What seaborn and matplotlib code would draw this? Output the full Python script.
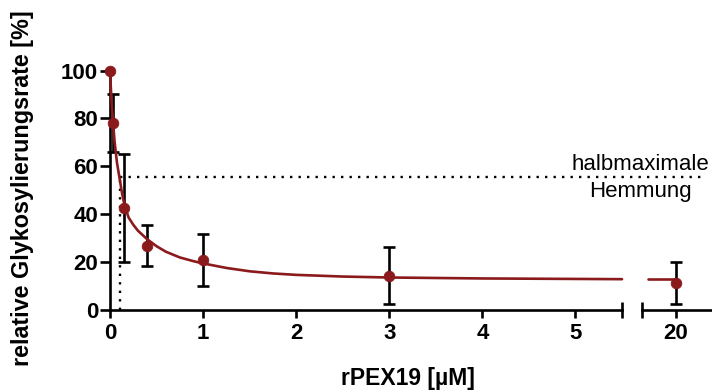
import matplotlib
matplotlib.use("Agg")
import matplotlib.pyplot as plt
import seaborn as sns
import pandas as pd

# ---- data ----
conc = [0, 0.03, 0.15, 0.4, 1, 3, 20]
mean = [100, 78.2, 42.5, 26.8, 20.8, 14.2, 11.1]
sd = [0, 12.2, 22.5, 8.7, 11.0, 11.8, 8.9]

fit_x = [0, 0.01, 0.02, 0.03, 0.05, 0.075, 0.1, 0.13, 0.16, 0.2, 0.25, 0.3, 0.4,
         0.5, 0.6, 0.75, 0.9, 1.0, 1.25, 1.5, 1.75, 2.0, 2.5, 3.0, 3.5, 4.0, 5.0, 5.5]
fit_y = [100, 92, 85, 79.5, 70, 61.5, 55.6, 48.5, 43, 38.5, 35.5, 33, 29.4,
         26.5, 24.2, 21.8, 20.2, 19.3, 17.4, 16.0, 15.1, 14.5, 13.8, 13.4, 13.2, 13.0, 12.8, 12.7]
fit_x_right = [19.7, 20.0]
fit_y_right = [12.8, 12.8]

half_level = 55.6
ic50 = 0.11

xticks_left = [0, 1, 2, 3, 4, 5]
xticks_right = [20]
yticks = [0, 20, 40, 60, 80, 100]

xlabel = "rPEX19 [µM]"
ylabel = "relative Glykosylierungsrate [%]"
note1 = "halbmaximale"
note2 = "Hemmung"

# ---- style ----
sns.set_style("ticks")
plt.rcParams["font.family"] = ["Liberation Sans", "DejaVu Sans"]
for k in ["text.color", "axes.labelcolor", "xtick.color", "ytick.color", "axes.edgecolor"]:
    plt.rcParams[k] = "black"
red = "#8b1a1d"
lw_axis = 1.9

W, H = 712, 392
fig = plt.figure(figsize=(W / 100, H / 100), dpi=100)

ax1 = fig.add_axes([110 / W, (H - 309.5) / H, (622 - 110) / W, 238.8 / H])
ax2 = fig.add_axes([642 / W, (H - 309.5) / H, (711 - 642) / W, 238.8 / H])
for ax in (ax1, ax2):
    ax.set_facecolor("none")

df = pd.DataFrame({"conc": conc, "mean": mean, "sd": sd})
left = df[df["conc"] <= 5.5]
right = df[df["conc"] > 5.5]

for ax, part, fx, fy in [(ax1, left, fit_x, fit_y), (ax2, right, fit_x_right, fit_y_right)]:
    eb = part[part["sd"] > 0]
    ax.errorbar(eb["conc"], eb["mean"], yerr=eb["sd"], fmt="none", ecolor="black",
                elinewidth=1.9, capsize=4.5, capthick=1.9, zorder=2, clip_on=False)
    sns.lineplot(x=fx, y=fy, ax=ax, color=red, lw=1.9, zorder=3, clip_on=False)
    sns.scatterplot(data=part, x="conc", y="mean", ax=ax, color=red, edgecolor=red,
                    s=58, zorder=4, clip_on=False, legend=False)
    ax.set_ylim(0, 100)
    ax.set_xlabel("")
    ax.set_ylabel("")
    for s in ["top", "right"]:
        ax.spines[s].set_visible(False)
    for s in ["left", "bottom"]:
        ax.spines[s].set_linewidth(lw_axis)
    ax.tick_params(axis="x", length=6, width=lw_axis, pad=4, labelsize=16)
    ax.tick_params(axis="y", length=7.5, width=lw_axis, pad=1, labelsize=16)

ax1.set_xlim(0, 5.5)
ax1.set_xticks(xticks_left)
ax1.set_xticklabels([str(v) for v in xticks_left], fontweight="bold")
ax1.set_yticks(yticks)
ax1.set_yticklabels([str(v) for v in yticks], fontweight="bold")

ax2.set_xlim(19.64, 20.38)
ax2.set_xticks(xticks_right)
ax2.set_xticklabels([str(v) for v in xticks_right], fontweight="bold")
ax2.spines["left"].set_visible(False)
ax2.set_yticks([])

# break caps
ax1.plot([1], [0], transform=ax1.transAxes, marker="|", ms=11, mew=lw_axis, color="k", clip_on=False)
ax2.plot([0], [0], transform=ax2.transAxes, marker="|", ms=11, mew=lw_axis, color="k", clip_on=False)

# half-maximal inhibition dotted lines
fig.canvas.draw()
x_end_disp = ax2.transData.transform((20.30, 0))[0]
x_end = ax1.transData.inverted().transform((x_end_disp, 0))[0]
dot = (0, (1, 2.6))
ax1.plot([ic50, x_end], [half_level, half_level], ls=dot, color="k", lw=1.7,
         clip_on=False, zorder=1, dash_capstyle="butt")
ax1.plot([ic50, ic50], [0, half_level], ls=dot, color="k", lw=1.7,
         clip_on=False, zorder=1, dash_capstyle="butt")

fig.text(640 / W, (H - 165) / H, note1, ha="center", va="center", fontsize=16)
fig.text(640 / W, (H - 191) / H, note2, ha="center", va="center", fontsize=16)

fig.text(408 / W, (H - 385) / H, xlabel, ha="center", va="baseline", fontsize=16.5, fontweight="bold")
fig.text(23 / W, (H - 188) / H, ylabel, ha="center", va="center", rotation=90,
         fontsize=16.8, fontweight="bold")

fig.savefig("out.png", dpi=100)
